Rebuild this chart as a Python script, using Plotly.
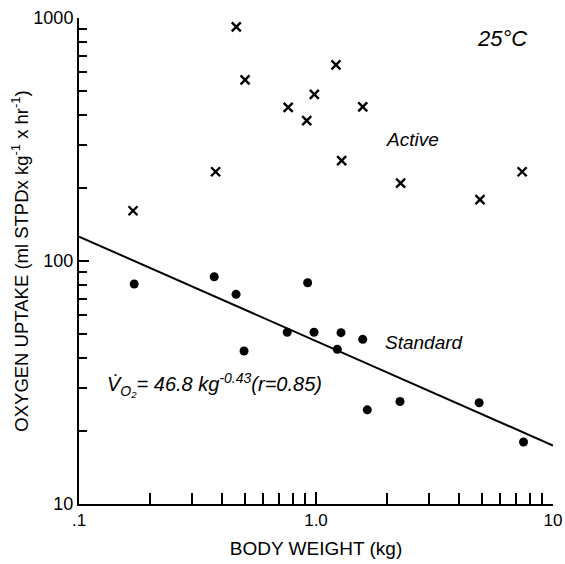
import plotly.graph_objects as go

# Active (X markers)
active_x = [0.169, 0.377, 0.461, 0.502, 0.763, 0.914, 0.984, 1.214, 1.283, 1.575, 2.275, 4.92, 7.41]
active_y = [161, 233, 920, 556, 429, 378, 485, 641, 259, 431, 209, 179, 233]

# Standard (filled dots)
std_x = [0.171, 0.372, 0.460, 0.497, 0.756, 0.922, 0.981, 1.23, 1.275, 1.575, 1.646, 2.262, 4.88, 7.51]
std_y = [80.4, 86.1, 72.9, 42.6, 50.9, 81.4, 50.9, 43.3, 50.7, 47.6, 24.4, 26.4, 26.1, 18.0]

# Regression line endpoints
fit_x = [0.1, 10]
fit_y = [126, 17.4]

x_tickvals = [0.1, 1, 10]
x_ticktext = [".1", "1.0", "10"]
y_tickvals = [10, 100, 1000]
y_ticktext = ["10", "100", "1000"]
x_minor = [0.2, 0.3, 0.4, 0.5, 0.6, 0.7, 0.8, 0.9, 2, 3, 4, 5, 6, 7, 8, 9]
y_minor = [20, 30, 40, 50, 60, 70, 80, 90, 200, 300, 400, 500, 600, 700, 800, 900]

FONT = "Liberation Sans"

fig = go.Figure()
fig.add_trace(go.Scatter(x=fit_x, y=fit_y, mode="lines",
                         line=dict(color="black", width=2), showlegend=False))
fig.add_trace(go.Scatter(x=std_x, y=std_y, mode="markers",
                         marker=dict(symbol="circle", size=9, color="black"),
                         showlegend=False))
fig.add_trace(go.Scatter(x=active_x, y=active_y, mode="markers",
                         marker=dict(symbol="x-thin-open", size=9, color="black",
                                     line=dict(color="black", width=2.4)),
                         showlegend=False))

fig.update_layout(
    width=565, height=564,
    margin=dict(l=79, r=12, t=18, b=60),
    paper_bgcolor="white", plot_bgcolor="white",
    font=dict(family=FONT, color="black", size=16),
    xaxis=dict(type="log", range=[-1, 1], showgrid=False, zeroline=False,
               automargin=False,
               showline=True, linecolor="black", linewidth=2,
               tickvals=x_tickvals, ticktext=x_ticktext,
               ticks="inside", ticklen=12, tickwidth=1.5, tickcolor="black",
               minor=dict(tickvals=x_minor, ticks="inside", ticklen=11,
                          tickwidth=1.5, tickcolor="black", showgrid=False),
               tickfont=dict(size=17),
               title=dict(text="BODY WEIGHT (kg)", font=dict(size=19), standoff=12)),
    yaxis=dict(type="log", range=[1, 3], showgrid=False, zeroline=False,
               automargin=False,
               showline=True, linecolor="black", linewidth=2,
               tickvals=y_tickvals, ticktext=y_ticktext,
               ticks="inside", ticklen=10, tickwidth=1.5, tickcolor="black",
               minor=dict(tickvals=y_minor, ticks="inside", ticklen=8,
                          tickwidth=1.5, tickcolor="black", showgrid=False),
               tickfont=dict(size=18),
               title=dict(text="OXYGEN UPTAKE (ml STPDx kg<sup>-1</sup> x hr<sup>-1</sup>)",
                          font=dict(size=18.5), standoff=0)),
    annotations=[
        dict(text="<i>25°C</i>", xref="paper", yref="paper", x=0.892, y=0.958,
             xanchor="center", yanchor="middle",
             showarrow=False, font=dict(size=22)),
        dict(text="<i>Active</i>", xref="paper", yref="paper", x=0.703, y=0.749,
             xanchor="center", yanchor="middle",
             showarrow=False, font=dict(size=19)),
        dict(text="<i>Standard</i>", xref="paper", yref="paper", x=0.728, y=0.333,
             xanchor="center", yanchor="middle",
             showarrow=False, font=dict(size=19)),
        dict(text="<i>V̇<sub>O₂</sub>= 46.8 kg<sup>-0.43</sup>(r=0.85)</i>",
             xref="paper", yref="paper", x=0.055, y=0.245,
             xanchor="left", yanchor="middle",
             showarrow=False, font=dict(size=20)),
    ],
)

fig.write_html("out.html")
